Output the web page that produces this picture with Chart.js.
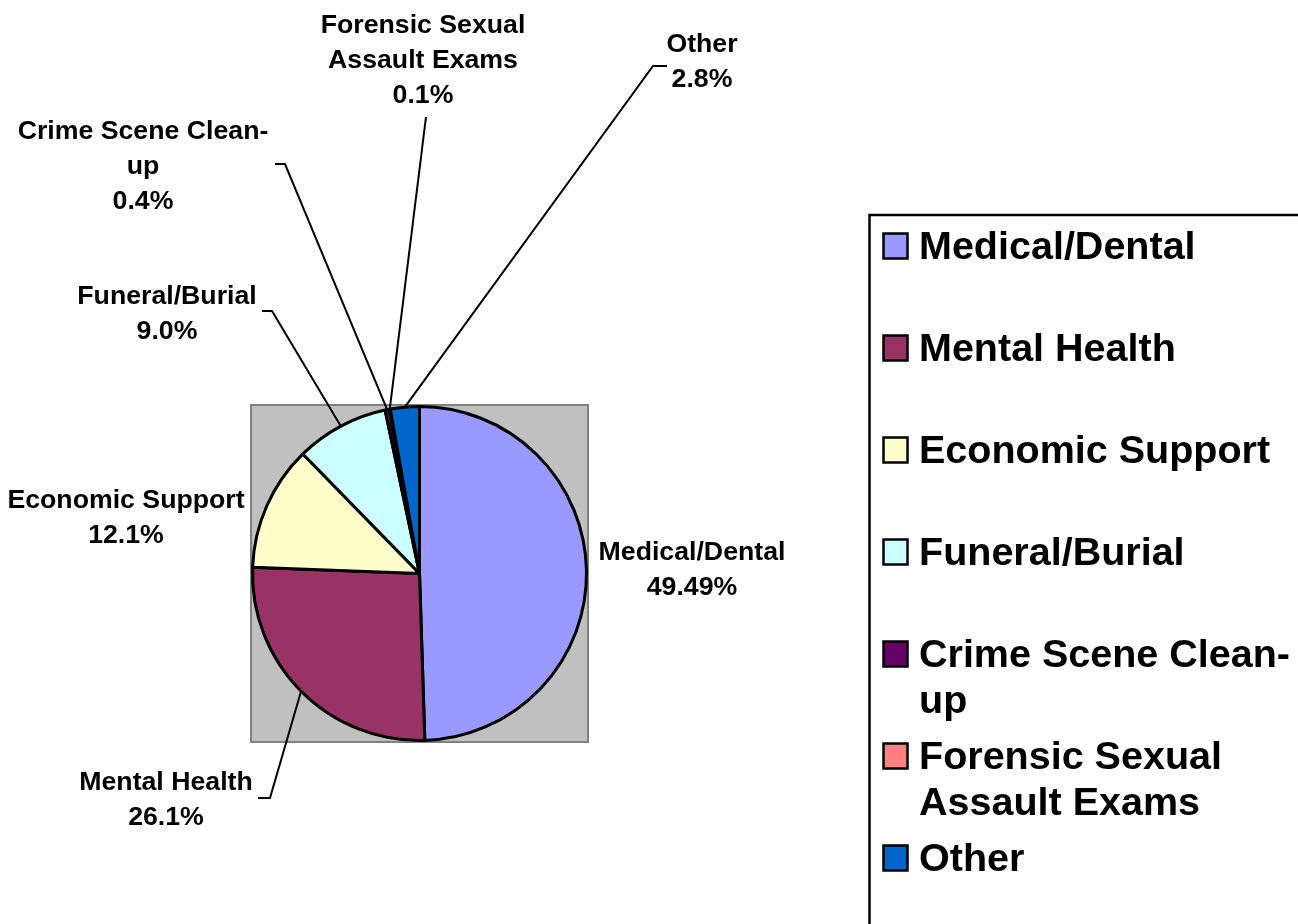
<!DOCTYPE html>
<html>
<head>
<meta charset="utf-8">
<script src="https://cdn.jsdelivr.net/npm/chart.js@4"></script>
<style>
  body { margin: 0; background: #fff; }
  #wrap { width: 1298px; height: 924px; position: relative; }
</style>
</head>
<body>
<div id="wrap"><canvas id="pieChart"></canvas></div>
<script>
// data
const categories = ['Medical/Dental', 'Mental Health', 'Economic Support', 'Funeral/Burial',
  'Crime Scene Clean-up', 'Forensic Sexual Assault Exams', 'Other'];
const shares = [49.49, 26.1, 12.1, 9.0, 0.4, 0.1, 2.8];
const shareText = ['49.49%', '26.1%', '12.1%', '9.0%', '0.4%', '0.1%', '2.8%'];
const colors = ['#9999FF', '#993366', '#FFFFCC', '#CCFFFF', '#660066', '#FF8080', '#0066CC'];

// where each data label sits (centre x, first line y) and its leader tick
const labelPos = [
  { x: 692, y: 553 },
  { x: 166, y: 783, tick: [258, 270, 798] },
  { x: 126, y: 501 },
  { x: 167, y: 297, tick: [262, 272, 311] },
  { x: 143, y: 132, tick: [275, 285, 164] },
  { x: 423, y: 26, tick: [426, 426, 117] },
  { x: 702, y: 45, tick: [667, 653, 66] }
];

const FONT = '"Liberation Sans", Arial, sans-serif';

function wrapText(ctx, text, maxW) {
  const words = text.match(/[^\s-]+-?/g);
  const lines = [];
  let cur = '';
  for (let i = 0; i < words.length; i++) {
    let sep = (cur === '' || cur.endsWith('-')) ? '' : ' ';
    let test = cur + sep + words[i];
    if (cur !== '' && ctx.measureText(test).width > maxW) {
      lines.push(cur);
      cur = words[i];
    } else {
      cur = test;
    }
  }
  if (cur) lines.push(cur);
  return lines;
}

// grey plot area behind the pie
const plotArea = {
  id: 'plotArea',
  beforeDatasetsDraw(chart) {
    const a = chart.chartArea;
    const ctx = chart.ctx;
    ctx.save();
    ctx.fillStyle = '#C0C0C0';
    ctx.fillRect(a.left, a.top, a.right - a.left, a.bottom - a.top);
    ctx.strokeStyle = '#808080';
    ctx.lineWidth = 2;
    ctx.strokeRect(a.left, a.top, a.right - a.left, a.bottom - a.top);
    ctx.restore();
  }
};

// labels with leader lines
const sliceLabels = {
  id: 'sliceLabels',
  afterDatasetsDraw(chart) {
    const ctx = chart.ctx;
    const meta = chart.getDatasetMeta(0);
    ctx.save();
    ctx.font = 'bold 26.7px ' + FONT;
    ctx.textAlign = 'center';
    ctx.textBaseline = 'middle';
    ctx.fillStyle = '#000';
    ctx.strokeStyle = '#000';
    ctx.lineWidth = 2;
    meta.data.forEach((arc, i) => {
      const p = labelPos[i];
      const lines = wrapText(ctx, categories[i], 265);
      lines.push(shareText[i]);
      lines.forEach((l, j) => ctx.fillText(l, p.x, p.y + j * 35));
      if (p.tick) {
        const mid = (arc.startAngle + arc.endAngle) / 2;
        const ex = arc.x + Math.cos(mid) * arc.outerRadius;
        const ey = arc.y + Math.sin(mid) * arc.outerRadius;
        ctx.beginPath();
        ctx.moveTo(p.tick[0], p.tick[2]);
        ctx.lineTo(p.tick[1], p.tick[2]);
        ctx.lineTo(ex, ey);
        ctx.stroke();
      }
    });
    ctx.restore();
  }
};

// boxed legend on the right
const sideLegend = {
  id: 'sideLegend',
  afterDraw(chart) {
    const ctx = chart.ctx;
    ctx.save();
    ctx.strokeStyle = '#000';
    ctx.lineWidth = 2.5;
    ctx.strokeRect(869.5, 215, 480, 760);
    ctx.font = 'bold 39.5px ' + FONT;
    ctx.textBaseline = 'middle';
    for (let i = 0; i < categories.length; i++) {
      const cy = 246 + i * 102;
      ctx.fillStyle = colors[i];
      ctx.fillRect(883.5, cy - 12.5, 24, 25);
      ctx.lineWidth = 2.5;
      ctx.strokeRect(883.5, cy - 12.5, 24, 25);
      ctx.fillStyle = '#000';
      const lines = wrapText(ctx, categories[i], 374);
      lines.forEach((l, j) => ctx.fillText(l, 919, cy + 2 + j * 46));
    }
    ctx.restore();
  }
};

new Chart(document.getElementById('pieChart'), {
  type: 'pie',
  data: {
    labels: categories,
    datasets: [{
      data: shares,
      backgroundColor: colors,
      borderColor: '#000',
      borderWidth: 3
    }]
  },
  options: {
    responsive: true,
    maintainAspectRatio: false,
    animation: false,
    layout: { padding: { left: 251, top: 405, right: 710, bottom: 182 } },
    plugins: {
      legend: { display: false },
      tooltip: { enabled: false }
    }
  },
  plugins: [plotArea, sliceLabels, sideLegend]
});
</script>
</body>
</html>
